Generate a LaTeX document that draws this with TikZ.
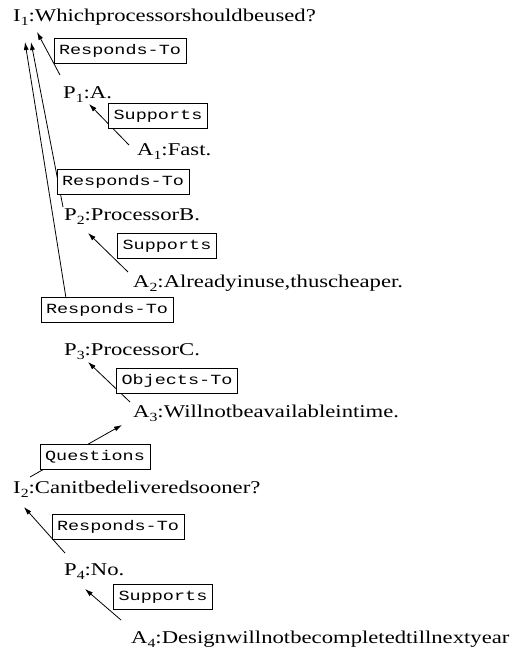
\documentclass[tikz,border=0pt]{standalone}
\usepackage{fontspec}
\setmainfont[FakeStretch=1.26]{Liberation Serif}
\newfontfamily\relfont[FakeStretch=1.32]{Liberation Mono}
\usetikzlibrary{arrows.meta}
\newcommand{\idx}[1]{\raisebox{-4pt}{\fontsize{12.5}{12.5}\selectfont #1}}

\begin{document}
\begin{tikzpicture}[
    x=1pt, y=-1pt,
    stmt/.style = {
        anchor=base west, inner sep=0pt, font=\fontsize{18}{21}\selectfont
    },
    rel/.style = {
        draw=black, fill=white, line width=0.8pt, inner xsep=5pt,
        minimum height=25pt, font=\relfont\fontsize{14}{16}\selectfont
    },
    link/.style = {
        line width=0.8pt, -{Latex[length=8pt, width=5pt]}
    }
]
    \useasboundingbox (0,0) rectangle (520,650);

    % Statements
    \node[stmt] (I1) at (13,22) {I\idx{1}:Whichprocessorshouldbeused?};
    \node[stmt] (P1) at (63,99) {P\idx{1}:A.};
    \node[stmt] (A1) at (137,155) {A\idx{1}:Fast.};
    \node[stmt] (P2) at (64,220) {P\idx{2}:ProcessorB.};
    \node[stmt] (A2) at (133,287) {A\idx{2}:Alreadyinuse,thuscheaper.};
    \node[stmt] (P3) at (64,355) {P\idx{3}:ProcessorC.};
    \node[stmt] (A3) at (133,417) {A\idx{3}:Willnotbeavailableintime.};
    \node[stmt] (I2) at (13,493) {I\idx{2}:Canitbedeliveredsooner?};
    \node[stmt] (P4) at (64,575) {P\idx{4}:No.};
    \node[stmt] (A4) at (131,643) {A\idx{4}:Designwillnotbecompletedtillnextyear};

    % Links
    % P1-I1
    \draw[link] ([shift={(-3,-24)}]P1.base west) -- ([shift={(24,10)}]I1.base west);
    % A1-P1
    \draw[link] ([shift={(-8,-10)}]A1.base west) -- ([shift={(26,5)}]P1.base west);
    % P2-I1
    \draw[link] ([shift={(-1,-13)}]P2.base west) -- ([shift={(18,20)}]I1.base west);
    % A2-P2
    \draw[link] ([shift={(-5,-15)}]A2.base west) -- ([shift={(24,13)}]P2.base west);
    % P3-I1
    \draw[link] ([shift={(6,-32)}]P3.base west) -- ([shift={(12,20)}]I1.base west);
    % A3-P3
    \draw[link] ([shift={(-3,-15)}]A3.base west) -- ([shift={(24,7)}]P3.base west);
    % I2-A3
    \draw[link] ([shift={(17,-16)}]I2.base west) -- ([shift={(-11,8)}]A3.base west);
    % P4-I2
    \draw[link] ([shift={(1,-22)}]P4.base west) -- ([shift={(11,14)}]I2.base west);
    % A4-P4
    \draw[link] ([shift={(-10,-23)}]A4.base west) -- ([shift={(21,14)}]P4.base west);

    % Relation boxes
    \node[rel] (r1) at (120,51) {Responds-To};
    \node[rel] (r2) at (158,116) {Supports};
    \node[rel] (r3) at (123,182) {Responds-To};
    \node[rel] (r4) at (167,246) {Supports};
    \node[rel] (r5) at (107,310) {Responds-To};
    \node[rel] (r6) at (177,381) {Objects-To};
    \node[rel] (r7) at (95,457) {Questions};
    \node[rel] (r8) at (118,527) {Responds-To};
    \node[rel] (r9) at (163,597) {Supports};
\end{tikzpicture}
\end{document}
